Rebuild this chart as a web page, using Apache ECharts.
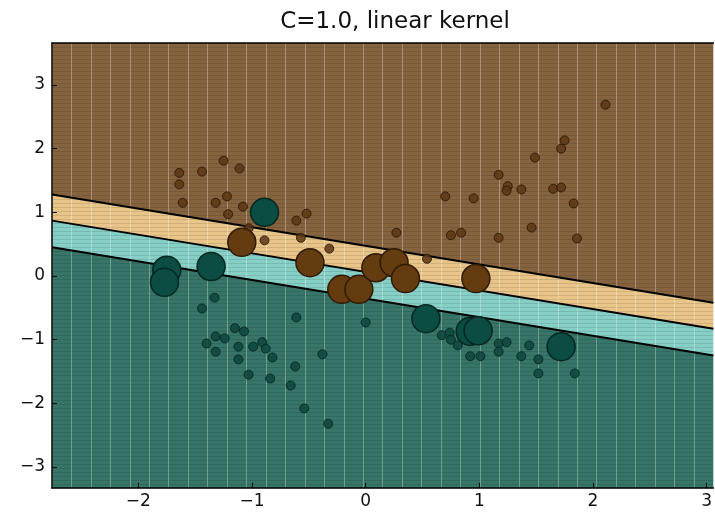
<!DOCTYPE html>
<html>
<head>
<meta charset="utf-8">
<script src="https://cdn.jsdelivr.net/npm/echarts@6/dist/echarts.min.js"></script>
<style>
html, body { margin: 0; padding: 0; background: #fff; }
#chart { width: 715px; height: 515px; }
</style>
</head>
<body>
<div id="chart"></div>
<script>
// ---- values ----
const xRange = [-2.76, 3.06]
const yRange = [-3.33, 3.66]
const xTicks = [-2, -1, 0, 1, 2, 3]
const yTicks = [-3, -2, -1, 0, 1, 2, 3]

// separating line and the two margins: y at the left and right edge
const lineX = [-2.76, 3.06]
const upperMargin = [1.28, -0.42]
const boundary = [0.87, -0.83]
const lowerMargin = [0.45, -1.25]

// training points, class 1 (brown)
const brownPoints = [
    [-1.64, 1.62], [-1.64, 1.44], [-1.44, 1.64], [-1.25, 1.81], [-1.11, 1.69],
    [-1.61, 1.15], [-1.32, 1.15], [-1.22, 1.25], [-1.08, 1.09], [-1.21, 0.97],
    [-0.61, 0.87], [-0.52, 0.98], [-1.03, 0.75], [-0.89, 0.56], [-0.57, 0.60],
    [-0.32, 0.43], [0.27, 0.68], [0.54, 0.27], [0.75, 0.64], [0.84, 0.68],
    [1.17, 0.60], [1.46, 0.76], [1.86, 0.59], [0.70, 1.25], [0.95, 1.22],
    [1.17, 1.59], [1.25, 1.41], [1.24, 1.34], [1.37, 1.36], [1.65, 1.37],
    [1.72, 1.39], [1.83, 1.14], [1.49, 1.86], [1.75, 2.13], [1.72, 2.00],
    [2.11, 2.69]
]
// training points, class 0 (teal)
const tealPoints = [
    [-1.33, -0.34], [-1.44, -0.51], [-0.61, -0.65], [-1.15, -0.82], [-1.07, -0.87],
    [-1.32, -0.95], [-1.24, -0.98], [-1.40, -1.06], [-1.32, -1.19], [-1.12, -1.11],
    [-0.99, -1.11], [-0.91, -1.04], [-0.88, -1.14], [-0.82, -1.28], [-1.12, -1.31],
    [-0.62, -1.42], [-0.38, -1.23], [-1.03, -1.55], [-0.84, -1.61], [-0.66, -1.72],
    [-0.54, -2.08], [-0.33, -2.32], [0.00, -0.73], [0.67, -0.93], [0.74, -0.89],
    [0.75, -1.00], [0.81, -1.09], [0.92, -1.26], [1.01, -1.26], [1.17, -1.06],
    [1.17, -1.19], [1.24, -1.04], [1.44, -1.09], [1.37, -1.26], [1.52, -1.31],
    [1.52, -1.53], [1.84, -1.53]
]
// support vectors
const brownSupport = [
    [-1.09, 0.53], [-0.49, 0.21], [-0.21, -0.21], [-0.06, -0.21],
    [0.09, 0.13], [0.25, 0.21], [0.35, -0.04], [0.97, -0.04]
]
const tealSupport = [
    [-0.89, 1.00], [-1.75, 0.09], [-1.77, -0.10], [-1.36, 0.15],
    [0.53, -0.67], [0.92, -0.87], [0.99, -0.86], [1.72, -1.11]
]

const minus = v => String(v).replace('-', '\u2212')
const labelFont = { fontFamily: 'DejaVu Sans', fontSize: 17, color: '#111' }

var myChart = echarts.init(document.getElementById('chart'))

function regions(params, api) {
    const c = (x, y) => api.coord([x, y])
    const x0 = lineX[0], x1 = lineX[1]
    const top = yRange[1], bot = yRange[0]
    const poly = (pts, fill) => ({ type: 'polygon', shape: { points: pts }, style: { fill: fill } })
    return {
        type: 'group',
        children: [
            poly([c(x0, top), c(x1, top), c(x1, upperMargin[1]), c(x0, upperMargin[0])], '#85633f'),
            poly([c(x0, upperMargin[0]), c(x1, upperMargin[1]), c(x1, boundary[1]), c(x0, boundary[0])], '#e8c488'),
            poly([c(x0, boundary[0]), c(x1, boundary[1]), c(x1, lowerMargin[1]), c(x0, lowerMargin[0])], '#85cfc6'),
            poly([c(x0, lowerMargin[0]), c(x1, lowerMargin[1]), c(x1, bot), c(x0, bot)], '#367568')
        ]
    }
}

const edgeLine = (ys) => ({
    type: 'line',
    data: [[lineX[0], ys[0]], [lineX[1], ys[1]]],
    symbol: 'none',
    silent: true,
    z: 4,
    lineStyle: { color: '#000', width: 2 }
})

var option = {
    animation: false,
    title: {
        text: 'C=1.0, linear kernel',
        left: 390,
        textAlign: 'center',
        top: 6,
        textStyle: { fontFamily: 'DejaVu Sans', fontSize: 23, fontWeight: 'normal', color: '#111' }
    },
    grid: { left: 52, top: 43, right: 0, bottom: 27 },
    xAxis: [{
        type: 'value',
        min: xRange[0],
        max: xRange[1],
        z: 3,
        axisLine: { show: true, onZero: false, lineStyle: { color: '#000', width: 1.5 } },
        axisTick: { show: true, inside: true, length: 5, customValues: xTicks, lineStyle: { color: '#000' } },
        axisLabel: Object.assign({ customValues: xTicks, margin: 5, formatter: minus }, labelFont),
        splitLine: { show: false }
    }, {
        // mesh columns of the decision surface
        type: 'value',
        position: 'top',
        min: 0,
        max: 34,
        interval: 1,
        z: 3,
        axisLine: { show: true, onZero: false, lineStyle: { color: '#000', width: 1.5 } },
        axisTick: { show: false },
        axisLabel: { show: false },
        splitLine: { show: true, lineStyle: { color: 'rgba(255,255,255,0.3)', width: 1 } }
    }],
    yAxis: [{
        type: 'value',
        min: yRange[0],
        max: yRange[1],
        z: 3,
        axisLine: { show: true, onZero: false, lineStyle: { color: '#000', width: 1.5 } },
        axisTick: { show: true, inside: true, length: 5, customValues: yTicks, lineStyle: { color: '#000' } },
        axisLabel: Object.assign({ customValues: yTicks, margin: 7, formatter: minus }, labelFont),
        splitLine: { show: false }
    }, {
        // mesh rows; the right frame edge is cut off in the picture
        type: 'value',
        position: 'right',
        min: 0,
        max: 111,
        interval: 1,
        z: 3,
        axisLine: { show: false, onZero: false },
        axisTick: { show: false },
        axisLabel: { show: false },
        splitLine: { show: true, lineStyle: { color: 'rgba(0,0,0,0.1)', width: 1 } }
    }],
    series: [{
        type: 'custom',
        renderItem: regions,
        data: [[0, 0]],
        clip: true,
        silent: true,
        z: 1
    },
    edgeLine(upperMargin),
    edgeLine(boundary),
    edgeLine(lowerMargin),
    {
        type: 'scatter',
        data: brownPoints,
        symbolSize: 9,
        z: 5,
        itemStyle: { color: '#5a3613', opacity: 0.85, borderColor: '#2b1806', borderWidth: 1 }
    }, {
        type: 'scatter',
        data: tealPoints,
        symbolSize: 9,
        z: 5,
        itemStyle: { color: '#0e483e', opacity: 0.9, borderColor: '#06291f', borderWidth: 1 }
    }, {
        type: 'scatter',
        data: brownSupport,
        symbolSize: 28,
        z: 6,
        itemStyle: { color: '#653b10', opacity: 1, borderColor: '#2f1a05', borderWidth: 1.5 }
    }, {
        type: 'scatter',
        data: tealSupport,
        symbolSize: 28,
        z: 6,
        itemStyle: { color: '#0b4c43', opacity: 1, borderColor: '#042720', borderWidth: 1.5 }
    }]
}
myChart.setOption(option)
</script>
</body>
</html>
